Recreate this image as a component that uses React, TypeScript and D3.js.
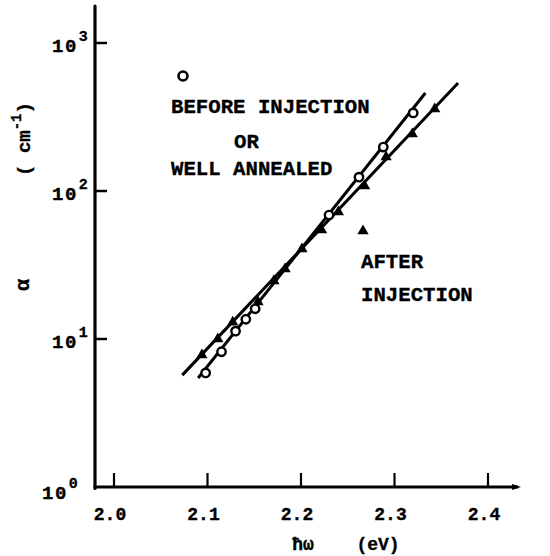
import * as d3 from 'd3';
import { useEffect, useRef } from 'react';

// photon energy (eV) and absorption coefficient (cm^-1)
const beforeE = [2.098, 2.115, 2.130, 2.141, 2.151, 2.230, 2.262, 2.288, 2.320];
const beforeAlpha = [5.9, 8.2, 11.3, 13.6, 16.0, 68.8, 124, 198, 337];
const afterE = [2.094, 2.111, 2.127, 2.154, 2.171, 2.183, 2.201, 2.222, 2.240, 2.268, 2.291, 2.319, 2.343];
const afterAlpha = [7.8, 10.0, 13.0, 17.8, 24.7, 29.7, 40.6, 54.5, 72.1, 108, 170, 243, 358];

// fitted straight lines (end points)
const beforeFitE = [2.090, 2.333];
const beforeFitAlpha = [5.45, 459];
const afterFitE = [2.073, 2.368];
const afterFitAlpha = [5.7, 537];

const xTicks = [2.0, 2.1, 2.2, 2.3, 2.4];
const yTicks = [1, 10, 100, 1000];
const yTickExp = ['0', '1', '2', '3'];

const FONT = '"Liberation Mono", "DejaVu Sans Mono", monospace';

export default function App() {
  const ref = useRef<SVGSVGElement>(null);

  useEffect(() => {
    const svg = d3.select(ref.current);
    svg.selectAll('*').remove();

    const x = d3.scaleLinear().domain([2.0, 2.4]).range([114, 488]);
    const y = d3.scaleLog().domain([1, 1000]).range([487, 43]);
    const axisX = 95;

    const g = svg.append('g')
      .attr('font-family', FONT).attr('font-weight', 'bold')
      .attr('fill', '#000').attr('stroke', '#000').attr('stroke-width', 0.35);

    // axes
    g.append('line')
      .attr('x1', axisX).attr('x2', axisX)
      .attr('y1', 6).attr('y2', y(1) + 1.5)
      .attr('stroke-width', 3.2).attr('stroke-linecap', 'round');
    g.append('line')
      .attr('x1', axisX - 1.5).attr('x2', 518)
      .attr('y1', y(1)).attr('y2', y(1))
      .attr('stroke-width', 3.2);
    g.append('path')
      .attr('d', `M512,${y(1) - 3}L521,${y(1)}L512,${y(1) + 3}Z`)
      .attr('stroke', 'none');

    // y ticks
    yTicks.forEach((v, i) => {
      if (v > 1) {
        g.append('line')
          .attr('x1', axisX).attr('x2', axisX + 12)
          .attr('y1', y(v)).attr('y2', y(v))
          .attr('stroke-width', 2.5);
      }
      const bx = v === 1 ? 42 : 52;
      const by = v === 1 ? y(v) + 12 : y(v) + 9;
      const t = g.append('text').attr('x', bx).attr('y', by).attr('font-size', 19).attr('letter-spacing', 1.5);
      t.append('tspan').text('10');
      t.append('tspan').attr('dy', -11).attr('dx', 1).attr('font-size', 15).text(yTickExp[i]);
    });

    // x ticks
    xTicks.forEach((v) => {
      g.append('line')
        .attr('x1', x(v)).attr('x2', x(v))
        .attr('y1', y(1)).attr('y2', y(1) - 14)
        .attr('stroke-width', 2.2);
      g.append('text')
        .attr('x', x(v) - 4).attr('y', 520)
        .attr('text-anchor', 'middle').attr('font-size', 18)
        .text(d3.format('.1f')(v));
    });

    // axis titles
    g.append('text').attr('x', 303).attr('y', 550).attr('text-anchor', 'middle').attr('font-size', 18).text('ħω');
    g.append('text').attr('x', 378).attr('y', 550).attr('text-anchor', 'middle').attr('font-size', 18).text('(eV)');
    g.append('text')
      .attr('transform', 'translate(29,285) rotate(-90)')
      .attr('text-anchor', 'middle').attr('font-size', 20).text('α');
    const cm = g.append('text')
      .attr('transform', 'translate(30,139) rotate(-90)')
      .attr('text-anchor', 'middle').attr('font-size', 19);
    cm.append('tspan').text('( cm');
    cm.append('tspan').attr('dy', -9).attr('font-size', 14).text('-1');
    cm.append('tspan').attr('dy', 9).text(')');

    // fit lines
    const line = d3.line<[number, number]>().x((d) => x(d[0])).y((d) => y(d[1]));
    [[beforeFitE, beforeFitAlpha], [afterFitE, afterFitAlpha]].forEach(([es, as]) => {
      g.append('path')
        .attr('d', line(es.map((e, i) => [e, as[i]] as [number, number])))
        .attr('fill', 'none').attr('stroke-width', 3);
    });

    // data points
    const tri = d3.symbol().type(d3.symbolTriangle).size(55);
    afterE.forEach((e, i) => {
      g.append('path')
        .attr('d', tri())
        .attr('transform', `translate(${x(e)},${y(afterAlpha[i])})`)
        .attr('stroke', 'none');
    });
    beforeE.forEach((e, i) => {
      g.append('circle')
        .attr('cx', x(e)).attr('cy', y(beforeAlpha[i])).attr('r', 4.2)
        .attr('fill', '#fff').attr('stroke-width', 2.4);
    });

    // legend
    g.append('circle').attr('cx', 183).attr('cy', 76).attr('r', 4.5)
      .attr('fill', '#fff').attr('stroke-width', 2.6);
    g.append('text').attr('x', 171).attr('y', 113).attr('font-size', 20.7).text('BEFORE INJECTION');
    g.append('text').attr('x', 234).attr('y', 148).attr('font-size', 20.7).text('OR');
    g.append('text').attr('x', 171).attr('y', 175).attr('font-size', 20.7).text('WELL ANNEALED');
    g.append('path').attr('d', tri()).attr('transform', 'translate(363,231)').attr('stroke', 'none');
    g.append('text').attr('x', 361).attr('y', 268).attr('font-size', 20.7).text('AFTER');
    g.append('text').attr('x', 361).attr('y', 301).attr('font-size', 20.7).text('INJECTION');
  }, []);

  return (
    <svg
      ref={ref}
      width={550}
      height={556}
      style={{ position: 'absolute', left: 0, top: 0, background: '#fff' }}
    />
  );
}
